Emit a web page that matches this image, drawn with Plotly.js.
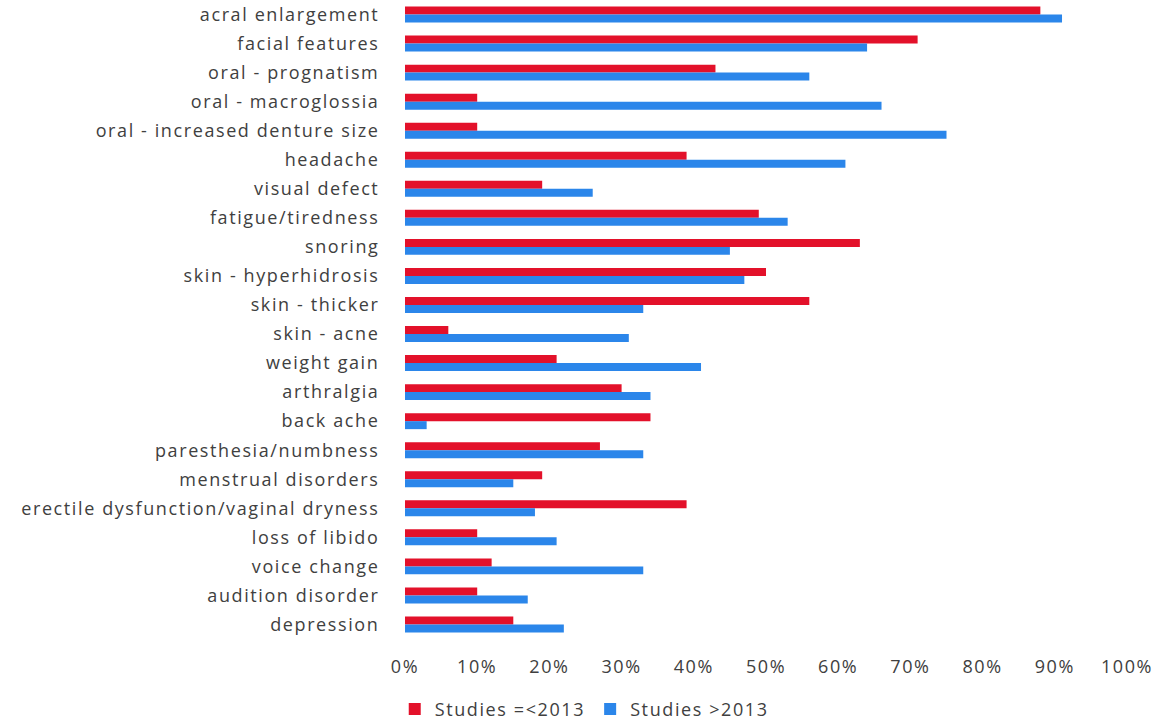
<!DOCTYPE html>
<html>
<head>
<meta charset="utf-8">
<script src="https://cdn.plot.ly/plotly-3.0.1.min.js"></script>
<style>
html,body{margin:0;padding:0;background:#fff;}
#chart{width:1161px;height:723px;}
.ytick text, .xtick text, .legendtext {letter-spacing: 1.6px;}
</style>
</head>
<body>
<div id="chart"></div>
<script>
const categories = [
  "acral enlargement","facial features","oral - prognatism","oral - macroglossia",
  "oral - increased denture size","headache","visual defect","fatigue/tiredness",
  "snoring","skin - hyperhidrosis","skin - thicker","skin - acne","weight gain",
  "arthralgia","back ache","paresthesia/numbness","menstrual disorders",
  "erectile dysfunction/vaginal dryness","loss of libido","voice change",
  "audition disorder","depression"
];
const studiesUpTo2013 = [0.88,0.71,0.43,0.10,0.10,0.39,0.19,0.49,0.63,0.50,0.56,0.06,0.21,0.30,0.34,0.27,0.19,0.39,0.10,0.12,0.10,0.15];
const studiesAfter2013 = [0.91,0.64,0.56,0.66,0.75,0.61,0.26,0.53,0.45,0.47,0.33,0.31,0.41,0.34,0.03,0.33,0.15,0.18,0.21,0.33,0.17,0.22];
const tickVals = [0,0.1,0.2,0.3,0.4,0.5,0.6,0.7,0.8,0.9,1.0];
const tickText = ["0%","10%","20%","30%","40%","50%","60%","70%","80%","90%","100%"];

const font = {family: "Open Sans, Noto Sans, sans-serif", size: 18, color: "#404040"};

const traces = [
  {type: "bar", orientation: "h", name: "Studies =<2013", y: categories, x: studiesUpTo2013,
   marker: {color: "#e3112a"}},
  {type: "bar", orientation: "h", name: "Studies >2013", y: categories, x: studiesAfter2013,
   marker: {color: "#2b86ea"}}
];

const layout = {
  width: 1161, height: 723,
  margin: {l: 405, r: 34, t: 0, b: 84},
  paper_bgcolor: "#fff", plot_bgcolor: "#fff",
  barmode: "group", bargap: 0.45, bargroupgap: 0,
  font: font,
  showlegend: true,
  legend: {orientation: "h", xref: "container", x: 0.340, xanchor: "left",
           yref: "container", y: 0.019, yanchor: "middle",
           traceorder: "normal", font: font, itemwidth: 30},
  xaxis: {range: [0, 1], tickvals: tickVals, ticktext: tickText, showgrid: false,
          zeroline: false, showline: false, ticks: "outside", ticklen: 11, tickcolor: "rgba(0,0,0,0)",
          tickfont: font, fixedrange: true, automargin: false},
  yaxis: {type: "category", autorange: "reversed", showgrid: false, zeroline: false, showline: false,
          ticks: "outside", ticklen: 21, tickcolor: "rgba(0,0,0,0)", tickfont: font, automargin: false}
};

Plotly.newPlot("chart", traces, layout, {displayModeBar: false, staticPlot: true});
</script>
</body>
</html>
